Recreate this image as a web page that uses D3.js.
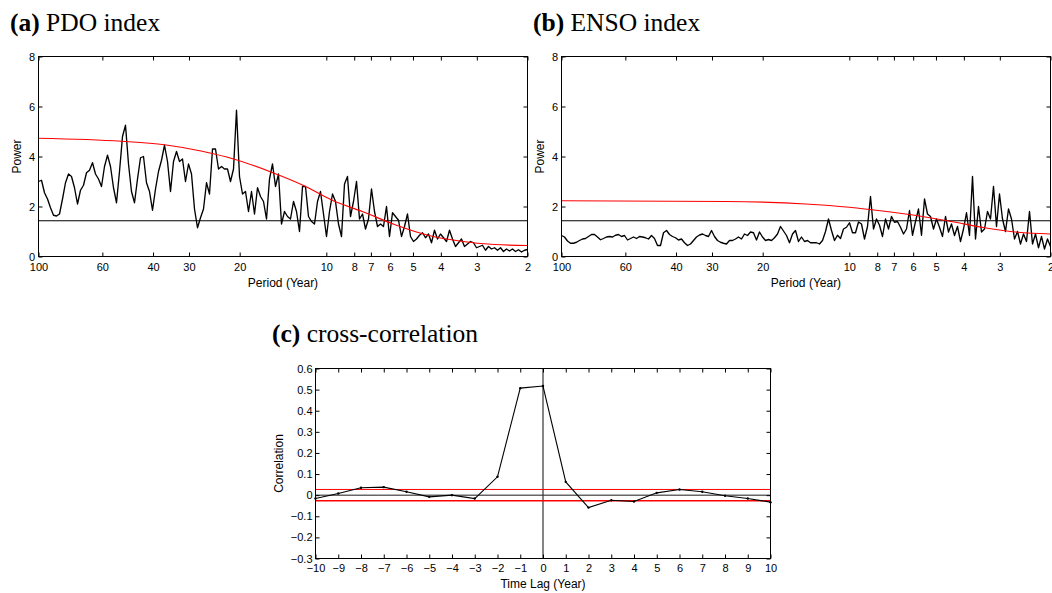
<!DOCTYPE html>
<html>
<head>
<meta charset="utf-8">
<script src="https://cdn.jsdelivr.net/npm/d3@7"></script>
<style>
body { margin: 0; background: #fff; }
svg { display: block; }
.tick text { font-family: "Liberation Sans", Arial, sans-serif; font-size: 11px; fill: #000; }
.domain { display: none; }
.title { font-family: "Liberation Serif", "Times New Roman", serif; font-size: 25.5px; fill: #000; }
.label { font-family: "Liberation Sans", Arial, sans-serif; font-size: 12px; fill: #000; }
</style>
</head>
<body>
<svg id="chart" width="1052" height="593"></svg>
<script>
// tick labels
const periodTicks = [100, 60, 40, 30, 20, 10, 8, 7, 6, 5, 4, 3, 2];
const powerTicks = [0, 2, 4, 6, 8];
const lagTicks = [-10, -9, -8, -7, -6, -5, -4, -3, -2, -1, 0, 1, 2, 3, 4, 5, 6, 7, 8, 9, 10];
const corrTicks = [-0.3, -0.2, -0.1, 0, 0.1, 0.2, 0.3, 0.4, 0.5, 0.6];

const pdoPower = [
    3.0, 3.05, 2.55, 2.3, 1.95, 1.65, 1.62, 1.7, 2.3, 2.95,
    3.3, 3.2, 2.75, 2.1, 2.65, 2.85, 3.35, 3.45, 3.75, 3.3,
    3.1, 2.8, 3.6, 4.05, 3.6, 2.75, 2.15, 3.4, 4.8, 5.25,
    3.7, 2.6, 2.15, 3.1, 3.95, 4.0, 2.95, 2.6, 1.85, 2.7,
    3.4, 3.85, 4.45, 3.8, 2.6, 3.8, 4.2, 3.8, 3.9, 3.0,
    3.7, 3.3, 1.9, 1.15, 1.55,
    1.9, 2.95, 2.5, 4.3, 4.3, 3.5, 3.6, 3.5, 3.5, 3.0,
    3.5, 5.85, 3.2, 2.5, 2.6, 1.8, 2.6, 1.7, 2.75, 2.4,
    2.2, 1.5, 3.1, 3.7, 2.8, 3.3, 1.3, 1.8, 1.6, 1.5,
    2.2, 1.8, 1.0, 2.8, 2.8, 1.6, 1.4, 1.3, 2.2, 2.6,
    1.7, 0.8, 1.8, 2.5, 2.2, 1.3, 0.8, 2.9, 3.2, 1.6,
    2.2, 3.0, 1.5, 1.7,
    1.1, 1.5, 2.7, 1.8, 1.2, 1.3, 1.2, 2.0, 0.8, 1.75,
    1.6, 1.45, 0.8, 1.2, 1.7, 0.8, 0.6, 0.7, 0.85, 0.95,
    0.75, 0.9, 0.55, 1.05, 0.7, 0.9, 0.75, 0.6, 1.05, 0.7,
    0.4, 0.55, 0.7, 0.4, 0.5, 0.6, 0.55, 0.35, 0.4, 0.45,
    0.25, 0.4, 0.3, 0.35, 0.25, 0.35, 0.2, 0.3, 0.22, 0.3,
    0.2, 0.27, 0.18, 0.25, 0.28
];

// (b) ENSO power, same period grid
const ensoPower = [
    0.84, 0.78, 0.62, 0.53, 0.53, 0.57, 0.64, 0.7, 0.72, 0.8,
    0.88, 0.88, 0.78, 0.67, 0.72, 0.78, 0.8, 0.78, 0.85, 0.88,
    0.8, 0.84, 0.66, 0.72, 0.78, 0.72, 0.8, 0.78, 0.75, 0.7,
    0.84, 0.72, 0.44, 0.44, 0.95, 1.04, 0.88, 0.8, 0.75, 0.66,
    0.7, 0.55, 0.44, 0.5, 0.64, 0.78, 0.86, 0.9, 0.84, 0.8,
    1.04, 0.8, 0.64, 0.57, 0.53,
    0.5, 0.64, 0.64, 0.7, 0.78, 0.7, 0.9, 0.84, 0.98, 0.95,
    0.66, 0.98, 0.78, 0.64, 0.68, 0.64, 0.75, 0.9, 1.2, 1.02,
    0.84, 0.55, 0.9, 1.04, 0.6, 0.78, 0.6, 0.64, 0.55, 0.55,
    0.55, 0.5, 0.64, 1.0, 1.5, 1.04, 0.64, 0.85, 0.72, 1.1,
    1.17, 1.35, 0.95, 0.95, 1.38, 1.3, 0.7, 1.2, 2.4, 1.1,
    1.5, 1.25, 0.8, 1.5,
    1.1, 1.6, 1.37, 1.4, 1.17, 0.9, 1.1, 1.84, 0.85, 1.4,
    1.9, 0.85, 2.3, 1.7, 1.6, 1.1, 1.5, 1.17, 0.8, 1.6,
    0.98, 1.3, 0.84, 1.2, 0.6, 1.1, 1.75, 0.84, 3.2, 0.7,
    2.0, 0.98, 1.1, 1.8, 1.5, 2.8, 1.2, 2.5, 1.5, 1.0,
    1.9, 1.5, 0.7, 1.0, 0.5, 0.9, 0.6, 1.8, 0.5, 0.9,
    0.35, 0.8, 0.3, 0.7, 0.4
];

// red-noise reference spectra
const pdoRedPeriod = [100, 51.5, 36.5, 27, 21, 15.5, 12, 9.5, 7.5, 5.8, 4.4, 3.4, 2.6, 2];
const pdoRed = [4.73, 4.61, 4.47, 4.21, 3.9, 3.37, 2.84, 2.24, 1.8, 1.28, 0.84, 0.61, 0.48, 0.44];
const ensoRedPeriod = [100, 27, 14.2, 10, 7.55, 5.78, 4.42, 3.39, 2.6, 2];
const ensoRed = [2.23, 2.2, 2.1, 1.97, 1.81, 1.63, 1.4, 1.15, 0.97, 0.9];
// significance level (black line)
const sigPower = 1.43;

// (c) cross-correlation by lag
const lags = [-10, -9, -8, -7, -6, -5, -4, -3, -2, -1, 0, 1, 2, 3, 4, 5, 6, 7, 8, 9, 10];
const xcorr = [-0.016, 0.008, 0.035, 0.038, 0.016, -0.008, 0.0, -0.016, 0.087, 0.507,
    0.517, 0.063, -0.059, -0.024, -0.03, 0.011, 0.027, 0.016, -0.003, -0.016, -0.033];
const xcorrBand = [-0.027, 0.027];

// periods of the spectrum samples: evenly spaced on the log axis
const periods = pdoPower.map(function(d, i) {
    return 100 * Math.pow(2 / 100, i / (pdoPower.length - 1));
});

var svg = d3.select("#chart");

// box with inward ticks on all four sides
function drawAxes(g, x, y, w, h, o) {
    g.append("g")
        .attr("transform", "translate(0," + h + ")")
        .call(d3.axisBottom(x).tickValues(o.xTicks).tickFormat(o.xFmt)
            .tickSizeInner(-4).tickSizeOuter(0).tickPadding(o.padX));
    g.append("g")
        .call(d3.axisTop(x).tickValues(o.xTicks).tickFormat("")
            .tickSizeInner(-4).tickSizeOuter(0));
    g.append("g")
        .call(d3.axisLeft(y).tickValues(o.yTicks).tickFormat(o.yFmt)
            .tickSizeInner(-4).tickSizeOuter(0).tickPadding(o.padY));
    g.append("g")
        .attr("transform", "translate(" + w + ",0)")
        .call(d3.axisRight(y).tickValues(o.yTicks).tickFormat("")
            .tickSizeInner(-4).tickSizeOuter(0));
    g.append("rect")
        .attr("width", w).attr("height", h)
        .attr("fill", "none").attr("stroke", "#000").attr("stroke-width", 1);
}

function drawTitle(x, y, tag, text) {
    var t = svg.append("text").attr("class", "title").attr("x", x).attr("y", y);
    t.append("tspan").attr("font-weight", "bold").text(tag);
    t.append("tspan").text(" " + text);
}

function drawSpectrum(left, top, power, redPeriod, red) {
    var w = 489, h = 200;
    var g = svg.append("g").attr("transform", "translate(" + left + "," + top + ")");
    var x = d3.scaleLog().domain([100, 2]).range([0, w]);
    var y = d3.scaleLinear().domain([0, 8]).range([h, 0]);

    // significance line
    g.append("line")
        .attr("x1", 0).attr("x2", w)
        .attr("y1", y(sigPower)).attr("y2", y(sigPower))
        .attr("stroke", "#000").attr("stroke-width", 1.2);

    // spectrum
    g.append("path")
        .datum(power)
        .attr("fill", "none").attr("stroke", "#000").attr("stroke-width", 1.35)
        .attr("stroke-linejoin", "round")
        .attr("d", d3.line()
            .x(function(d, i) { return x(periods[i]); })
            .y(function(d) { return y(d); }));

    // red noise
    g.append("path")
        .datum(red)
        .attr("fill", "none").attr("stroke", "#ff0000").attr("stroke-width", 1.2)
        .attr("d", d3.line()
            .curve(d3.curveMonotoneX)
            .x(function(d, i) { return x(redPeriod[i]); })
            .y(function(d) { return y(d); }));

    drawAxes(g, x, y, w, h, {
        xTicks: periodTicks, xFmt: d3.format("d"), padX: 7,
        yTicks: powerTicks, yFmt: d3.format("d"), padY: 3.5
    });

    g.append("text").attr("class", "label")
        .attr("x", w / 2).attr("y", h + 30)
        .attr("text-anchor", "middle").text("Period (Year)");
    g.append("text").attr("class", "label")
        .attr("transform", "translate(-18," + (h / 2) + ") rotate(-90)")
        .attr("text-anchor", "middle").text("Power");
}

function drawCorrelation(left, top) {
    var w = 455, h = 190;
    var g = svg.append("g").attr("transform", "translate(" + left + "," + top + ")");
    var x = d3.scaleLinear().domain([-10, 10]).range([0, w]);
    var y = d3.scaleLinear().domain([-0.3, 0.6]).range([h, 0]);

    // zero lines
    g.append("line")
        .attr("x1", 0).attr("x2", w).attr("y1", y(0)).attr("y2", y(0))
        .attr("stroke", "#666").attr("stroke-width", 1.5);
    g.append("line")
        .attr("x1", x(0)).attr("x2", x(0)).attr("y1", 0).attr("y2", h)
        .attr("stroke", "#333").attr("stroke-width", 1.2);

    // confidence band
    g.selectAll(".band")
        .data(xcorrBand)
        .enter().append("line")
        .attr("class", "band")
        .attr("x1", 0).attr("x2", w)
        .attr("y1", function(d) { return y(d); })
        .attr("y2", function(d) { return y(d); })
        .attr("stroke", "#ff0000")
        .attr("stroke-width", function(d) { return d < 0 ? 1.5 : 1; });

    g.append("path")
        .datum(xcorr)
        .attr("fill", "none").attr("stroke", "#000").attr("stroke-width", 1.1)
        .attr("d", d3.line()
            .x(function(d, i) { return x(lags[i]); })
            .y(function(d) { return y(d); }));
    g.selectAll(".pt")
        .data(xcorr)
        .enter().append("circle")
        .attr("class", "pt")
        .attr("cx", function(d, i) { return x(lags[i]); })
        .attr("cy", function(d) { return y(d); })
        .attr("r", 1.2).attr("fill", "#000");

    drawAxes(g, x, y, w, h, {
        xTicks: lagTicks, xFmt: d3.format("d"), padX: 5.5,
        yTicks: corrTicks, yFmt: d3.format(".1~f"), padY: 3
    });

    g.append("text").attr("class", "label")
        .attr("x", w / 2).attr("y", h + 29)
        .attr("text-anchor", "middle").text("Time Lag (Year)");
    g.append("text").attr("class", "label")
        .attr("transform", "translate(-33," + (h / 2) + ") rotate(-90)")
        .attr("text-anchor", "middle").text("Correlation");
}

drawTitle(10, 31, "(a)", "PDO index");
drawTitle(533, 31, "(b)", "ENSO index");
drawTitle(272, 342, "(c)", "cross-correlation");

drawSpectrum(38.5, 56.5, pdoPower, pdoRedPeriod, pdoRed);
drawSpectrum(561.5, 56.5, ensoPower, ensoRedPeriod, ensoRed);
drawCorrelation(315.5, 368.5);
</script>
</body>
</html>
